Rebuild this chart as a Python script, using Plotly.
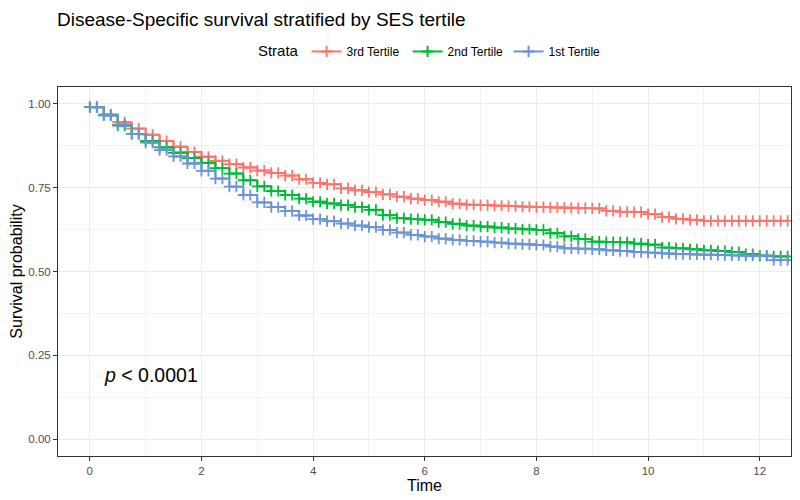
import plotly.graph_objects as go

# ---- data ----
time = [0.0, 0.25, 0.5, 0.75, 1.0, 1.25, 1.5, 1.75, 2.0, 2.25, 2.5, 2.75, 3.0, 3.25, 3.5, 3.75,
        4.0, 4.25, 4.5, 4.75, 5.0, 5.25, 5.5, 5.75, 6.0, 6.25, 6.5, 6.75, 7.0, 7.25, 7.5, 7.75,
        8.0, 8.25, 8.5, 8.75, 9.0, 9.25, 9.5, 9.75, 10.0, 10.25, 10.5, 10.75, 11.0, 11.25, 11.5,
        11.75, 12.0, 12.25, 12.5]

surv_3rd = [0.990, 0.968, 0.945, 0.926, 0.908, 0.889, 0.872, 0.856, 0.842, 0.830, 0.820, 0.810,
            0.801, 0.794, 0.786, 0.775, 0.764, 0.760, 0.748, 0.742, 0.737, 0.730, 0.723, 0.717,
            0.713, 0.708, 0.702, 0.699, 0.698, 0.696, 0.695, 0.693, 0.692, 0.691, 0.690, 0.689,
            0.688, 0.681, 0.678, 0.677, 0.671, 0.662, 0.657, 0.654, 0.651, 0.651, 0.651, 0.651,
            0.651, 0.651, 0.651]

surv_2nd = [0.990, 0.966, 0.935, 0.910, 0.889, 0.870, 0.854, 0.838, 0.824, 0.808, 0.792, 0.772,
            0.754, 0.740, 0.728, 0.717, 0.708, 0.703, 0.698, 0.692, 0.684, 0.668, 0.659, 0.656,
            0.654, 0.647, 0.642, 0.637, 0.634, 0.631, 0.628, 0.626, 0.624, 0.614, 0.605, 0.597,
            0.589, 0.588, 0.587, 0.583, 0.580, 0.571, 0.569, 0.566, 0.563, 0.561, 0.558, 0.552,
            0.547, 0.545, 0.545]

surv_1st = [0.990, 0.965, 0.938, 0.910, 0.884, 0.862, 0.843, 0.822, 0.800, 0.777, 0.753, 0.728,
            0.706, 0.692, 0.680, 0.667, 0.656, 0.650, 0.643, 0.637, 0.632, 0.624, 0.616, 0.609,
            0.604, 0.598, 0.594, 0.591, 0.589, 0.586, 0.583, 0.581, 0.579, 0.574, 0.569, 0.568,
            0.566, 0.563, 0.561, 0.558, 0.556, 0.554, 0.552, 0.551, 0.550, 0.549, 0.548, 0.547,
            0.547, 0.534, 0.534]

strata_names = ["3rd Tertile", "2nd Tertile", "1st Tertile"]
strata_colors = ["#F8766D", "#00BA38", "#6B93D6"]
x_ticks = [0, 2, 4, 6, 8, 10, 12]
y_ticks = [0.0, 0.25, 0.5, 0.75, 1.0]

FONT = "Liberation Sans, Arial, sans-serif"
OFF = 8  # page body margin of the written html
W, H = 800 - OFF, 500 - OFF

fig = go.Figure()
for name, col, surv in zip(strata_names, strata_colors, [surv_3rd, surv_2nd, surv_1st]):
    # censor marks: at each knot and in the middle of each step (value constant on the step)
    mx = list(time) + [(time[i] + time[i + 1]) / 2 for i in range(len(time) - 1)]
    my = list(surv) + [surv[i] for i in range(len(time) - 1)]
    fig.add_trace(go.Scatter(
        x=time, y=surv, mode="lines", line=dict(color=col, width=2, shape="hv"),
        name=name, legendgroup=name, showlegend=False, hoverinfo="skip"))
    fig.add_trace(go.Scatter(
        x=mx, y=my, mode="markers", name=name, legendgroup=name, showlegend=False,
        marker=dict(symbol="cross-thin-open", size=8, color=col, line=dict(color=col, width=1.8))))
    # legend entry
    fig.add_trace(go.Scatter(
        x=[None], y=[None], mode="lines+markers", name=name, legendgroup=name,
        line=dict(color=col, width=2),
        marker=dict(symbol="cross-thin-open", size=8, color=col, line=dict(color=col, width=2))))

fig.add_annotation(x=0.22, y=0.19, xref="x", yref="y", text="<i>p</i> &lt; 0.0001",
                   showarrow=False, xanchor="left", yanchor="middle",
                   font=dict(family=FONT, size=19.5, color="black"))

axis_common = dict(showline=True, linecolor="#333333", linewidth=1, mirror=True,
                   ticks="outside", ticklen=4, tickcolor="#333333", tickwidth=1,
                   gridcolor="#EBEBEB", gridwidth=1.1, zeroline=False,
                   tickfont=dict(family=FONT, size=11.5, color="#4D4D4D"))

fig.update_layout(
    width=W, height=H,
    margin=dict(l=58 - OFF, r=9, t=87 - OFF, b=44),
    paper_bgcolor="white", plot_bgcolor="white",
    font=dict(family=FONT, color="black"),
    title=dict(text="Disease-Specific survival stratified by SES tertile",
               x=(57 - OFF) / W, xanchor="left", xref="container",
               y=1 - 5 / H, yanchor="top",
               font=dict(family=FONT, size=19, color="black")),
    legend=dict(orientation="h", x=0.27, xanchor="left", y=1.095, yanchor="middle",
                title=dict(text="Strata", font=dict(family=FONT, size=15)),
                font=dict(family=FONT, size=12), itemwidth=30, bgcolor="rgba(0,0,0,0)",
                entrywidth=56, entrywidthmode="pixels"),
    xaxis=dict(range=[-0.57, 12.56], tickvals=x_ticks,
               minor=dict(dtick=1, tick0=1, showgrid=True, gridcolor="#F2F2F2", gridwidth=0.6,
                          ticklen=0),
               title=dict(text="Time", font=dict(family=FONT, size=16), standoff=0),
               automargin=False, **axis_common),
    yaxis=dict(range=[-0.05, 1.05], tickvals=y_ticks, tickformat=".2f",
               minor=dict(dtick=0.125, tick0=0.125, showgrid=True, gridcolor="#F2F2F2",
                          gridwidth=0.6, ticklen=0),
               title=dict(text="Survival probability", font=dict(family=FONT, size=16),
                          standoff=4),
               automargin=False, **axis_common),
)

fig.write_html("out.html")
